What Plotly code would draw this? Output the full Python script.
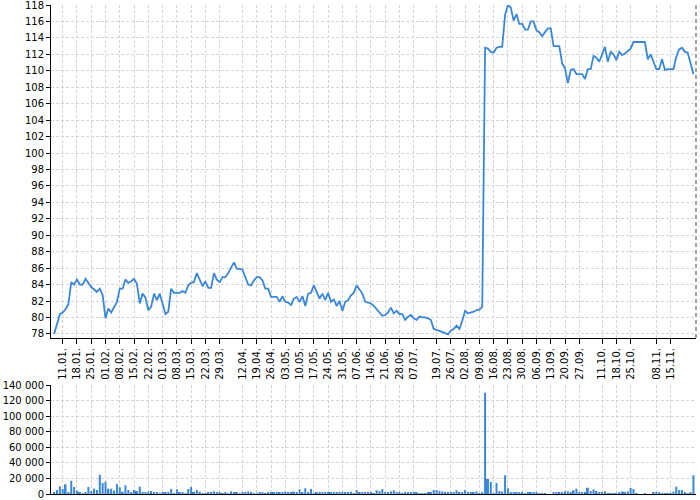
import pandas as pd
import plotly.graph_objects as go

# ---- data -------------------------------------------------------------
start_date = "2010-01-06"
end_date = "2010-11-26"
closed_days = ["2010-04-02", "2010-04-05", "2010-07-05", "2010-07-06",
               "2010-09-28", "2010-10-04", "2010-10-28", "2010-11-17"]
dates = [d.strftime("%Y-%m-%d") for d in pd.bdate_range(start_date, end_date)
         if d.strftime("%Y-%m-%d") not in closed_days]

price = [
    78.0, 79.3, 80.4, 80.6, 81.0, 81.6, 84.3, 84.0, 84.6, 84.0,
    84.0, 84.7, 84.2, 83.7, 83.4, 83.1, 83.5, 82.7, 79.9, 81.1,
    80.6, 81.2, 81.9, 83.5, 83.5, 84.6, 84.2, 84.4, 84.7, 84.1,
    81.7, 82.9, 82.4, 80.9, 81.3, 82.9, 82.1, 82.9, 81.8, 80.4,
    80.7, 83.5, 83.0, 83.0, 83.0, 83.2, 83.0, 83.9, 84.2, 84.3,
    85.4, 84.6, 83.8, 84.4, 83.6, 83.6, 85.4, 84.6, 84.3, 84.9,
    84.9, 85.4, 86.1, 86.7, 85.9, 85.9, 85.8, 84.9, 84.0, 83.9,
    84.5, 84.9, 84.9, 84.5, 83.5, 83.5, 82.5, 82.5, 82.5, 81.9,
    82.6, 81.9, 81.8, 81.5, 82.3, 82.5, 81.9, 82.6, 81.4, 82.9,
    83.0, 83.9, 83.0, 82.3, 82.9, 82.1, 83.0, 81.9, 82.2, 81.4,
    82.0, 80.8, 81.9, 82.1, 82.7, 83.0, 83.9, 83.4, 82.9, 81.9,
    81.8, 81.7, 81.4, 81.0, 80.6, 80.2, 80.3, 80.6, 81.2, 80.5,
    80.8, 80.4, 80.4, 79.7, 80.1, 80.3, 79.9, 79.7, 80.1, 80.0,
    80.0, 79.9, 79.7, 78.6, 78.5, 78.4, 78.25, 78.1, 77.95, 78.4,
    78.6, 79.0, 78.6, 79.6, 80.8, 80.5, 80.6, 80.7, 80.9, 80.95,
    81.3, 112.8, 112.7, 112.3, 112.2, 112.8, 112.9, 112.9, 116.8, 118.0,
    117.7, 116.1, 116.9, 115.7, 115.7, 115.0, 115.0, 116.0, 116.0, 114.9,
    114.7, 114.2, 114.7, 115.15, 115.15, 113.0, 113.0, 113.0, 110.9, 110.3,
    108.5, 110.1, 110.2, 109.6, 109.6, 109.6, 109.0, 110.2, 110.2, 111.8,
    111.6, 111.1, 112.0, 112.9, 111.1, 112.3, 112.0, 111.3, 112.3, 111.9,
    112.1, 112.4, 112.7, 113.5, 113.5, 113.5, 113.5, 113.5, 111.4, 112.0,
    111.1, 110.2, 110.2, 111.4, 110.1, 110.2, 110.2, 110.2, 111.7, 112.6,
    112.8, 112.3, 112.2, 110.9, 109.6,
]

volume = [
    2000, 5000, 10000, 6400, 12400, 2000, 17000, 9000, 4300, 2000,
    800, 2000, 9000, 3800, 6800, 5100, 24800, 14000, 15800, 6800,
    6800, 4300, 12800, 8500, 3000, 11100, 5100, 1300, 5100, 3800,
    9400, 1300, 1700, 3000, 3800, 1300, 1300, 400, 1300, 2600,
    1700, 6400, 400, 6000, 1300, 1700, 400, 6400, 9000, 1300,
    5100, 3000, 800, 400, 2600, 1300, 3400, 1700, 1700, 400,
    2000, 400, 3400, 1700, 1700, 400, 1700, 1300, 3400, 1300,
    400, 400, 1300, 2000, 400, 1300, 2000, 1700, 1300, 2000,
    1700, 3000, 2000, 1300, 3000, 1700, 6000, 1300, 7300, 1700,
    6400, 400, 1300, 2600, 1300, 1300, 2000, 2000, 1300, 1300,
    1300, 2000, 1700, 1300, 3000, 400, 5100, 2000, 1300, 1700,
    1300, 1300, 400, 4700, 3800, 6400, 1700, 2000, 3400, 4700,
    2000, 2000, 400, 1300, 2000, 1300, 1300, 1300, 400, 400,
    800, 1700, 1300, 5100, 5100, 3800, 3400, 2000, 1300, 2000,
    2000, 4700, 1700, 2000, 5100, 2000, 1300, 1300, 3400, 800,
    2000, 130000, 19200, 15400, 800, 14100, 3800, 3000, 24000, 7300,
    1300, 2000, 1300, 1300, 1300, 800, 1700, 1300, 1300, 1300,
    800, 400, 400, 0, 0, 2000, 1700, 1300, 2600, 3400,
    3400, 1300, 4700, 6800, 1300, 1700, 2000, 8100, 3800, 6000,
    3800, 1300, 1300, 3400, 800, 800, 400, 400, 2000, 3400,
    1300, 3400, 7700, 6400, 400, 0, 0, 400, 0, 0,
    1300, 2000, 1300, 400, 800, 800, 400, 3000, 9400, 5100,
    5100, 1300, 800, 1300, 24000,
]

tick_dates = ["2010-01-11", "2010-01-18", "2010-01-25", "2010-02-01", "2010-02-08",
              "2010-02-15", "2010-02-22", "2010-03-01", "2010-03-08", "2010-03-15",
              "2010-03-22", "2010-03-29", "2010-04-12", "2010-04-19", "2010-04-26",
              "2010-05-03", "2010-05-10", "2010-05-17", "2010-05-24", "2010-05-31",
              "2010-06-07", "2010-06-14", "2010-06-21", "2010-06-28", "2010-07-07",
              "2010-07-19", "2010-07-26", "2010-08-02", "2010-08-09", "2010-08-16",
              "2010-08-23", "2010-08-30", "2010-09-06", "2010-09-13", "2010-09-20",
              "2010-09-27", "2010-10-11", "2010-10-18", "2010-10-25", "2010-11-08",
              "2010-11-15"]
tick_labels = ["11.01.", "18.01.", "25.01.", "01.02.", "08.02.", "15.02.", "22.02.",
               "01.03.", "08.03.", "15.03.", "22.03.", "29.03.", "12.04.", "19.04.",
               "26.04.", "03.05.", "10.05.", "17.05.", "24.05.", "31.05.", "07.06.",
               "14.06.", "21.06.", "28.06.", "07.07.", "19.07.", "26.07.", "02.08.",
               "09.08.", "16.08.", "23.08.", "30.08.", "06.09.", "13.09.", "20.09.",
               "27.09.", "11.10.", "18.10.", "25.10.", "08.11.", "15.11."]

price_ticks = list(range(78, 119, 2))
volume_ticks = list(range(0, 140001, 20000))

# ---- figure -----------------------------------------------------------
BLUE = "#3a86da"
GRID = "#d4d4d4"
FONT = dict(family="DejaVu Sans", size=10, color="black")
n = len(dates)
PRICE_DOM = [0.319, 1.0]
VOL_DOM = [0.0, 0.2229]

fig = go.Figure()
fig.add_trace(go.Scatter(x=dates, y=price, mode="lines",
                         line=dict(color=BLUE, width=1.8),
                         xaxis="x", yaxis="y", hoverinfo="skip"))
fig.add_trace(go.Bar(x=dates, y=volume, marker=dict(color=BLUE, line=dict(width=0)),
                     xaxis="x2", yaxis="y2", hoverinfo="skip"))

common_x = dict(type="category", range=[-1.1, n - 0.1], automargin=False,
                tickmode="array", tickvals=tick_dates,
                showgrid=True, gridcolor=GRID, griddash="3px,2px", gridwidth=1,
                showline=True, linecolor="black", linewidth=1,
                zeroline=False)
common_y = dict(automargin=False, tickmode="array", ticks="outside", ticklen=4,
                tickcolor="black", showgrid=True, gridcolor=GRID,
                griddash="3px,2px", showline=True, linecolor="black", linewidth=1,
                zeroline=False, tickfont=FONT, ticklabeloverflow="allow")

fig.update_layout(
    width=700, height=500,
    margin=dict(l=51, r=4, t=5, b=6),
    paper_bgcolor="white", plot_bgcolor="white",
    showlegend=False, bargap=0.3,
    separators=", ",
    font=FONT,
    xaxis=dict(common_x, anchor="y", ticktext=tick_labels, tickangle=-90,
               ticks="outside", ticklen=5, tickcolor="black", tickfont=FONT),
    xaxis2=dict(common_x, anchor="y2", matches="x", showticklabels=False,
                ticks=""),
    yaxis=dict(common_y, domain=PRICE_DOM, range=[77.5, 118], tickvals=price_ticks),
    yaxis2=dict(common_y, domain=VOL_DOM, range=[0, 140000],
                tickvals=volume_ticks, tickformat=",d"),
    shapes=[dict(type="line", xref="paper", yref="paper", x0=1, x1=1,
                 y0=PRICE_DOM[0], y1=PRICE_DOM[1],
                 line=dict(color="#444444", width=1, dash="4px,3px"))],
)

fig.write_html(
    "out.html",
    config={"displayModeBar": False},
    post_script="document.body.style.margin='0';document.body.style.padding='0';"
                "document.body.style.overflow='hidden';",
)
